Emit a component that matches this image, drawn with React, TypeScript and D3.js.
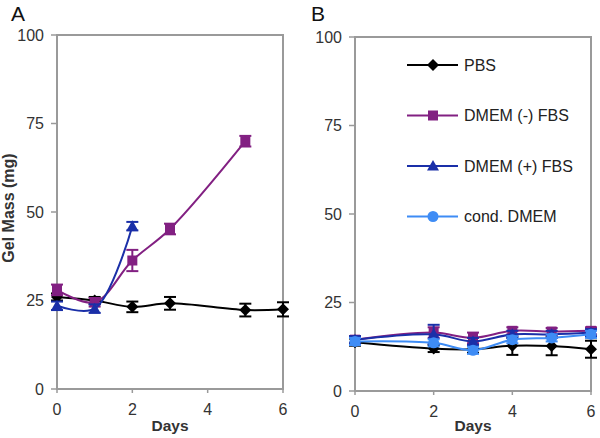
import React from "react";
import * as d3 from "d3";

const yTicks = [0, 25, 50, 75, 100];
const xTicks = [0, 2, 4, 6];

// Panel A
const aPbsDays = [0, 1, 2, 3, 5, 6];
const aPbs = [26, 25, 23.2, 24.2, 22.3, 22.5];
const aPbsErr = [1, 1, 1.5, 1.8, 1.8, 2];
const aMinusDays = [0, 1, 2, 3, 5];
const aMinus = [28, 24.5, 36.3, 45.2, 70];
const aMinusErr = [1.5, 1.2, 3, 1.5, 1.5];
const aPlusDays = [0, 1, 2];
const aPlus = [23.5, 22.7, 46];
const aPlusErr = [1.2, 1.2, 1.2];

// Panel B
const bDays = [0, 2, 3, 4, 5, 6];
const bPbs = [13.8, 12, 11.8, 12.8, 12.7, 11.8];
const bPbsErr = [1, 1, 1, 2.6, 2.6, 2.4];
const bMinus = [14.5, 16.5, 15, 17, 16.8, 17];
const bMinusErr = [1, 1.5, 1.5, 1, 1, 1];
const bPlus = [14.5, 16, 14, 16, 16, 16.5];
const bPlusErr = [1, 2.7, 1, 1, 1, 1];
const bCond = [14, 13.6, 11.5, 14.5, 15, 16];
const bCondErr = [1, 1, 1, 1, 1, 1];

const seriesNames = ["PBS", "DMEM (-) FBS", "DMEM (+) FBS", "cond. DMEM"];
const colors = ["#000000", "#822082", "#1a2fa8", "#3e8cf5"];
const shapes = ["diamond", "square", "triangle", "circle"];

const FONT = "Liberation Sans, Arial, sans-serif";

type S = { days: number[]; vals: number[]; errs: number[]; k: number };

function Marker({ x, y, k }: { x: number; y: number; k: number }) {
  const c = colors[k];
  const s = shapes[k];
  if (s === "diamond") {
    const r = 6;
    return <path d={`M${x},${y - r}L${x + r},${y}L${x},${y + r}L${x - r},${y}Z`} fill={c} />;
  }
  if (s === "square") return <rect x={x - 5} y={y - 5} width={10} height={10} fill={c} />;
  if (s === "triangle") {
    const r = 6;
    return <path d={`M${x},${y - r}L${x + r},${y + r * 0.75}L${x - r},${y + r * 0.75}Z`} fill={c} />;
  }
  return <circle cx={x} cy={y} r={5.5} fill={c} />;
}

function Panel({
  left, right, top, bottom, label, series, legend,
}: {
  left: number; right: number; top: number; bottom: number; label: string; series: S[]; legend: boolean;
}) {
  const x = d3.scaleLinear().domain([0, 6]).range([left, right]);
  const y = d3.scaleLinear().domain([0, 100]).range([bottom, top]);
  const line = d3
    .line<[number, number]>()
    .x((d) => x(d[0]))
    .y((d) => y(d[1]))
    .curve(d3.curveCatmullRom.alpha(0.5));
  const frame = "#9a9a9a";
  return (
    <g>
      <text x={label === "A" ? 11 : 311} y={21} fontSize={21} fill="#111" fontFamily={FONT}>
        {label}
      </text>
      <rect x={left} y={top} width={right - left} height={bottom - top} fill="none" stroke={frame} strokeWidth={2} />
      {yTicks.map((t) => (
        <g key={t}>
          <line x1={left - 6} x2={left} y1={y(t)} y2={y(t)} stroke={frame} strokeWidth={1.5} />
          <text x={left - 13} y={y(t)} dy="0.35em" textAnchor="end" fontSize={16} fill="#333" fontFamily={FONT}>
            {t}
          </text>
        </g>
      ))}
      {xTicks.map((t) => (
        <g key={t}>
          <line x1={x(t)} x2={x(t)} y1={bottom} y2={bottom + 4} stroke={frame} strokeWidth={1.5} />
          <text x={x(t)} y={bottom + 26} textAnchor="middle" fontSize={16} fill="#333" fontFamily={FONT}>
            {t}
          </text>
        </g>
      ))}
      <text x={(left + right) / 2} y={431} textAnchor="middle" fontSize={15.5} fontWeight="bold" fill="#333" fontFamily={FONT}>
        Days
      </text>
      {series.map((s) => {
        const pts = s.days.map((d, i) => [d, s.vals[i]] as [number, number]);
        return (
          <g key={s.k}>
            {s.days.map((d, i) => (
              <g key={i} stroke={colors[s.k]} strokeWidth={2}>
                <line x1={x(d)} x2={x(d)} y1={y(s.vals[i] - s.errs[i])} y2={y(s.vals[i] + s.errs[i])} />
                <line x1={x(d) - 6} x2={x(d) + 6} y1={y(s.vals[i] + s.errs[i])} y2={y(s.vals[i] + s.errs[i])} />
                <line x1={x(d) - 6} x2={x(d) + 6} y1={y(s.vals[i] - s.errs[i])} y2={y(s.vals[i] - s.errs[i])} />
              </g>
            ))}
            <path d={line(pts) || ""} fill="none" stroke={colors[s.k]} strokeWidth={2} />
            {pts.map((p, i) => (
              <Marker key={i} x={x(p[0])} y={y(p[1])} k={s.k} />
            ))}
          </g>
        );
      })}
      {legend &&
        seriesNames.map((n, i) => {
          const ly = 65 + i * 50.5;
          return (
            <g key={n}>
              <line x1={407} x2={458} y1={ly} y2={ly} stroke={colors[i]} strokeWidth={2} />
              <Marker x={433} y={ly} k={i} />
              <text x={464} y={ly} dy="0.35em" fontSize={16} fill="#222" fontFamily={FONT}>
                {n}
              </text>
            </g>
          );
        })}
    </g>
  );
}

export default function App() {
  const aSeries: S[] = [
    { days: aPbsDays, vals: aPbs, errs: aPbsErr, k: 0 },
    { days: aMinusDays, vals: aMinus, errs: aMinusErr, k: 1 },
    { days: aPlusDays, vals: aPlus, errs: aPlusErr, k: 2 },
  ];
  const bSeries: S[] = [
    { days: bDays, vals: bPbs, errs: bPbsErr, k: 0 },
    { days: bDays, vals: bMinus, errs: bMinusErr, k: 1 },
    { days: bDays, vals: bPlus, errs: bPlusErr, k: 2 },
    { days: bDays, vals: bCond, errs: bCondErr, k: 3 },
  ];
  return (
    <svg width={600} height={438} style={{ position: "absolute", left: 0, top: 0, background: "#fff" }}>
      <rect width={600} height={438} fill="#fff" />
      <text
        transform="translate(14,208) rotate(-90)"
        textAnchor="middle"
        fontSize={16}
        fontWeight="bold"
        fill="#333"
        fontFamily={FONT}
      >
        Gel Mass (mg)
      </text>
      <Panel left={57} right={283} top={35} bottom={389} label="A" series={aSeries} legend={false} />
      <Panel left={355} right={591} top={37} bottom={391} label="B" series={bSeries} legend={true} />
    </svg>
  );
}
